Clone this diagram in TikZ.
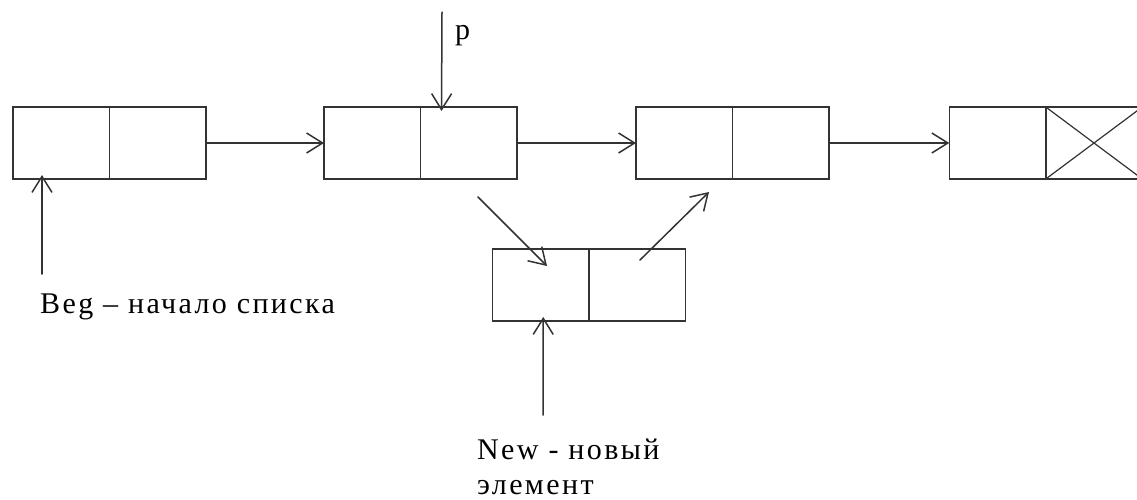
\documentclass[tikz,border=0pt]{standalone}
\usepackage{fontspec}
\newfontfamily\labelfont[LetterSpace=8]{Liberation Serif}
\usetikzlibrary{arrows.meta}
\tikzset{
  cell/.style={draw=black!80, line width=1.5pt, minimum width=96.5pt, minimum height=72pt,
               inner sep=0pt, outer sep=0pt},
  link/.style={draw=black!80, line width=1.5pt, line cap=round,
               -{Straight Barb[length=16pt,width=20pt,line width=1.5pt]}},
  lbl/.style={font=\labelfont\fontsize{30}{37}\selectfont, inner sep=0pt, anchor=base west}
}
\begin{document}
\begin{tikzpicture}[x=1pt,y=-1pt]
\useasboundingbox (0,0) rectangle (1137,499);
% list elements: data cell + pointer cell
\node[cell] (a1) at (61.25,143) {};
\node[cell] (a2) at (157.75,143) {};
\node[cell] (b1) at (372.25,143) {};
\node[cell] (b2) at (468.75,143) {};
\node[cell] (c1) at (684.25,143) {};
\node[cell] (c2) at (780.75,143) {};
\node[cell] (d1) at (997.5,143) {};
\node[cell] (d2) at (1094,143) {};
% empty pointer of the last element
\draw[black!80, line width=1.2pt] (d2.north west) -- (d2.south east) (d2.south west) -- (d2.north east);
% inserted element
\node[cell] (n1) at (540.5,285) {};
\node[cell] (n2) at (637,285) {};
% links between elements
\draw[link] (a2.east) -- (b1.west);
\draw[link] (b2.east) -- (c1.west);
\draw[link] (c2.east) -- (d1.west);
% pointer p
\coordinate (ptop) at (442,12);
\coordinate (pend) at ([xshift=21pt,yshift=-4pt]b2.north west);
\draw[link] (ptop) -- (pend);
\node[lbl] (plab) at (455,39) {p};
% re-linking through the new element
\coordinate (s1) at (478,197);
\coordinate (e1) at (547,266);
\coordinate (s2) at (640,260);
\coordinate (e2) at (709,192);
\draw[link] (s1) -- (e1);
\draw[link] (s2) -- (e2);
% Beg pointer
\coordinate (begtail) at (42,274);
\draw[link] (begtail) -- ([xshift=29pt,yshift=4pt]a1.south west);
\node[lbl] (beg) at (40,313) {Beg – начало списка};
% New pointer
\coordinate (newtail) at (543,415);
\draw[link] (newtail) -- ([xshift=51pt,yshift=4pt]n1.south west);
\node[lbl] (new) at (477,459) {New - новый};
\node[lbl] (new2) at (477,494) {элемент};
\end{tikzpicture}
\end{document}
